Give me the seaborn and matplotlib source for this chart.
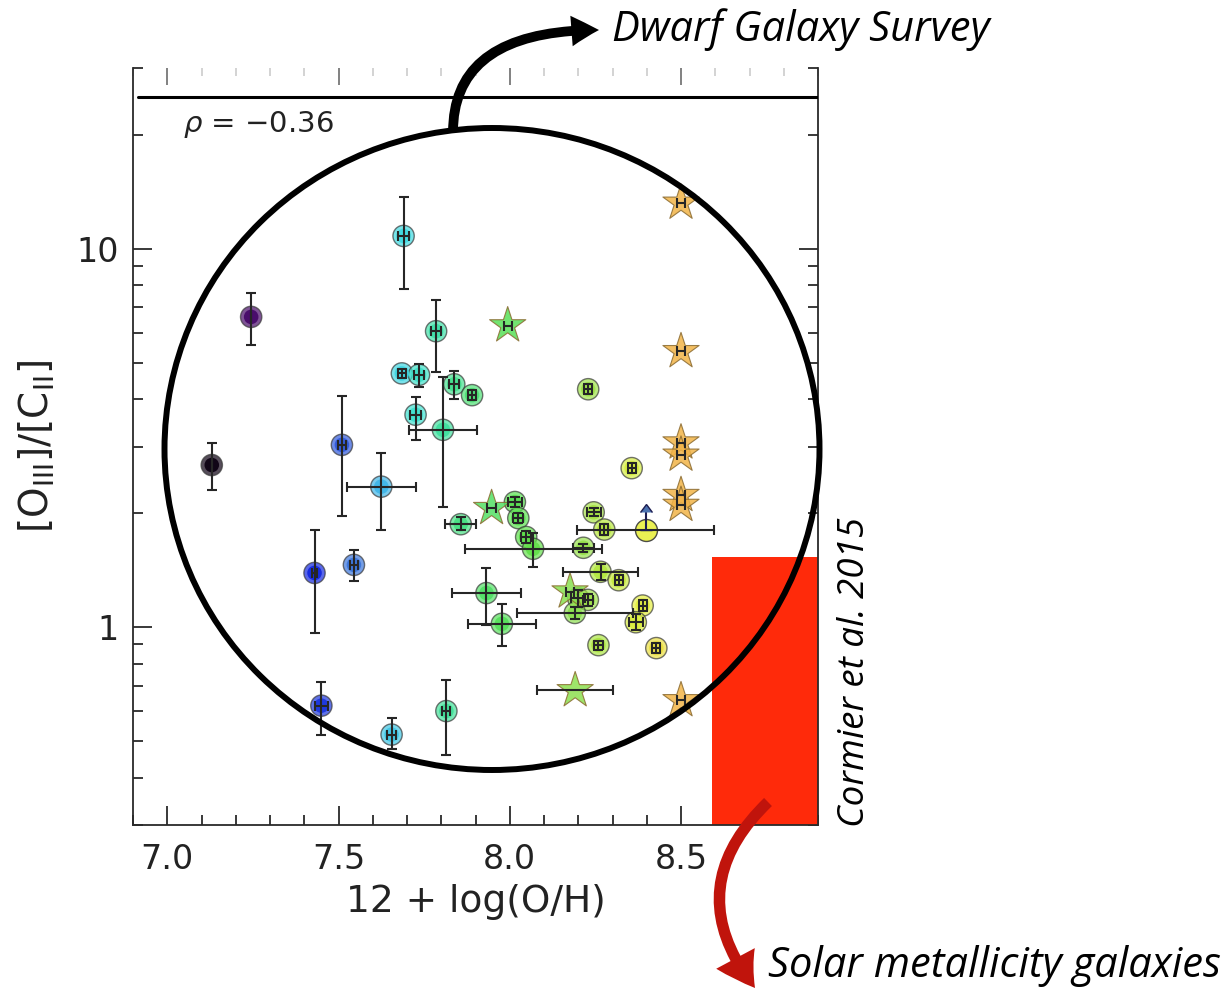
import numpy as np
import pandas as pd
import matplotlib
matplotlib.use("Agg")
import matplotlib.pyplot as plt
import seaborn as sns
from matplotlib.patches import Ellipse, FancyArrowPatch, ArrowStyle
from matplotlib.colors import LinearSegmentedColormap
from matplotlib.ticker import MultipleLocator, LogLocator, NullFormatter

# ---- Dwarf Galaxy Survey: individual galaxies (circles) ----
circ_oh = [7.13, 7.245, 7.69, 7.51, 7.625, 7.43, 7.545, 7.45, 7.655, 7.815,
           7.685, 7.735, 7.785, 7.725, 7.805, 7.838, 7.89, 7.857, 8.015, 8.025,
           8.048, 8.068, 7.932, 7.977, 8.229, 8.356, 8.245, 8.276, 8.215, 8.265,
           8.318, 8.20, 8.228, 8.19, 8.388, 8.368, 8.259, 8.428]
circ_ratio = [2.68, 6.60, 10.8, 3.03, 2.35, 1.39, 1.46, 0.62, 0.52, 0.60,
              4.68, 4.64, 6.05, 3.64, 3.32, 4.38, 4.10, 1.87, 2.14, 1.94,
              1.73, 1.61, 1.23, 1.02, 4.25, 2.63, 2.01, 1.81, 1.62, 1.40,
              1.33, 1.19, 1.18, 1.09, 1.14, 1.03, 0.896, 0.88]
circ_oh_err = [0.0, 0.0, 0.015, 0.012, 0.10, 0.008, 0.012, 0.02, 0.012, 0.012,
               0.012, 0.015, 0.015, 0.015, 0.10, 0.015, 0.012, 0.045, 0.02, 0.015,
               0.015, 0.20, 0.10, 0.10, 0.012, 0.012, 0.02, 0.012, 0.03, 0.11,
               0.012, 0.02, 0.015, 0.17, 0.012, 0.02, 0.012, 0.012]
circ_ratio_lo = [2.30, 5.57, 7.80, 1.97, 1.81, 0.965, 1.32, 0.52, 0.475, 0.46,
                 4.55, 4.30, 4.73, 3.12, 2.08, 4.00, 3.98, 1.80, 2.08, 1.88,
                 1.67, 1.44, 1.01, 0.89, 4.12, 2.55, 1.96, 1.75, 1.58, 1.33,
                 1.29, 1.13, 1.14, 1.05, 1.10, 0.98, 0.87, 0.855]
circ_ratio_hi = [3.07, 7.65, 13.7, 4.08, 2.89, 1.80, 1.60, 0.715, 0.575, 0.725,
                 4.80, 4.95, 7.33, 4.06, 4.59, 4.75, 4.22, 1.95, 2.20, 2.00,
                 1.79, 1.77, 1.43, 1.15, 4.38, 2.71, 2.06, 1.87, 1.66, 1.47,
                 1.37, 1.25, 1.22, 1.13, 1.18, 1.08, 0.92, 0.905]

# galaxy with a lower limit on [OIII]/[CII]
limit_oh = [8.397]
limit_ratio = [1.81]
limit_oh_err = [0.20]
limit_arrow = [0.21]

# ---- stacked / composite regions (stars) ----
star_oh = [7.994, 7.947, 8.176, 8.191, 8.50, 8.50, 8.50, 8.50, 8.50, 8.50, 8.50]
star_ratio = [6.26, 2.06, 1.24, 0.68, 13.2, 5.35, 3.07, 2.85, 2.23, 2.10, 0.64]
star_oh_err = [0.012, 0.012, 0.012, 0.11, 0.012, 0.012, 0.012, 0.012, 0.012, 0.012, 0.012]

# ---- solar-metallicity galaxies (Cormier et al. 2015) ----
solar_oh = [8.59, 8.90]
solar_ratio_max = 1.53

rho_text = r"$\rho$ = −0.36"

# metallicity colour scale
cmap_oh = [7.10, 7.25, 7.43, 7.53, 7.63, 7.70, 7.80, 7.90, 8.05, 8.20, 8.28, 8.40, 8.50]
cmap_col = ["#000000", "#4b0a6e", "#1428e0", "#3a6ad8", "#40b8e8", "#40e0e0",
            "#40e0a0", "#50e070", "#5de04a", "#90e050", "#b8e840", "#e8f040", "#f2b448"]
oh_min, oh_max = cmap_oh[0], cmap_oh[-1]
cmap = LinearSegmentedColormap.from_list(
    "metal", [((v - oh_min) / (oh_max - oh_min), c) for v, c in zip(cmap_oh, cmap_col)])

circles = pd.DataFrame({"oh": circ_oh, "ratio": circ_ratio})
stars = pd.DataFrame({"oh": star_oh, "ratio": star_ratio})
limits = pd.DataFrame({"oh": limit_oh, "ratio": limit_ratio})

sns.set_theme(style="ticks")
plt.rcParams["font.family"] = ["DejaVu Sans"]

W, H = 1228, 992
fig = plt.figure(figsize=(W / 100, H / 100), dpi=100)
ax = fig.add_axes([133 / W, 1 - 825 / H, 685 / W, (825 - 68) / H])
ax.set_yscale("log")
ax.set_xlim(6.9, 8.9)
ax.set_ylim(0.30, 30.0)

# solar metallicity box
ax.fill_between(solar_oh, ax.get_ylim()[0], solar_ratio_max, color="#ff2a0a",
                lw=0, zorder=1)

norm = (oh_min, oh_max)
# translucent halo + solid core for circles
sns.scatterplot(data=circles, x="oh", y="ratio", hue="oh", palette=cmap, hue_norm=norm,
                s=235, alpha=0.7, edgecolor="#3a3a3a", linewidth=1.0, legend=False,
                ax=ax, zorder=3)
sns.scatterplot(data=circles, x="oh", y="ratio", hue="oh", palette=cmap, hue_norm=norm,
                s=110, alpha=0.95, edgecolor="none", linewidth=0, legend=False,
                ax=ax, zorder=3)
sns.scatterplot(data=limits, x="oh", y="ratio", hue="oh", palette=cmap, hue_norm=norm,
                s=250, alpha=0.9, edgecolor="#3a3a3a", linewidth=1.0, legend=False,
                ax=ax, zorder=3)
sns.scatterplot(data=stars, x="oh", y="ratio", hue="oh", palette=cmap, hue_norm=norm,
                marker="*", s=750, alpha=0.85, edgecolor="#8a6a30", linewidth=0.8,
                legend=False, ax=ax, zorder=3)

eb_kw = dict(fmt="none", ecolor="#262626", elinewidth=1.5, capsize=3.5, capthick=1.5,
             zorder=4)
c_ratio = np.array(circ_ratio)
ax.errorbar(circ_oh, circ_ratio, xerr=circ_oh_err,
            yerr=[c_ratio - np.array(circ_ratio_lo), np.array(circ_ratio_hi) - c_ratio],
            **eb_kw)
ax.errorbar(star_oh, star_ratio, xerr=star_oh_err, **eb_kw)
ax.errorbar(limit_oh, limit_ratio, xerr=limit_oh_err, **eb_kw)
ax.errorbar(limit_oh, limit_ratio, yerr=[[0], limit_arrow], lolims=True, fmt="none",
            ecolor="#1c1c50", elinewidth=1.5, capsize=4, zorder=4)

ax.axhline(25.1, xmin=0.007, color="black", lw=2.2, zorder=5)
ax.text(0.073, 0.925, rho_text, transform=ax.transAxes, fontsize=21, va="center",
        color="#222222")

# axes, ticks
for side in ["left", "right", "bottom"]:
    ax.spines[side].set_visible(True)
    ax.spines[side].set_color("#2a2a2a")
    ax.spines[side].set_linewidth(1.3)
ax.spines["top"].set_visible(False)
ax.set_xticks([7.0, 7.5, 8.0, 8.5])
ax.set_xticklabels(["7.0", "7.5", "8.0", "8.5"])
ax.xaxis.set_minor_locator(MultipleLocator(0.1))
ax.set_yticks([1, 10])
ax.set_yticklabels(["1", "10"])
ax.yaxis.set_minor_locator(LogLocator(base=10, subs=np.arange(2, 10)))
ax.yaxis.set_minor_formatter(NullFormatter())
ax.tick_params(which="both", direction="in", top=False, right=True, color="#2a2a2a",
               width=1.3, labelsize=24, labelcolor="#222222")
ax.tick_params(axis="x", which="major", length=14, pad=13)
ax.tick_params(axis="x", which="minor", length=7)
ax.tick_params(axis="y", which="major", length=14, pad=10)
ax.tick_params(axis="y", which="minor", length=7)

sec = ax.secondary_xaxis("top")
sec.set_xticks([7.0, 7.5, 8.0, 8.5])
sec.xaxis.set_minor_locator(MultipleLocator(0.1))
sec.tick_params(which="both", direction="in", labeltop=False, width=1.3)
sec.tick_params(which="major", length=12, color="#777777")
sec.tick_params(which="minor", length=6, color="#d0d0d0")
sec.spines["top"].set_visible(False)

ax.set_xlabel("12 + log(O/H)", fontsize=27, color="#222222", labelpad=6)
ax.set_ylabel(r"[O$_{\mathregular{III}}$]/[C$_{\mathregular{II}}$]", fontsize=28,
              color="#222222", labelpad=14)
ax.grid(False)


def px(x, y):
    return (x / 100, (H - y) / 100)


# highlight ring around the survey galaxies
fig.add_artist(Ellipse(px(492, 449), 6.55, 6.42, transform=fig.dpi_scale_trans,
                       fill=False, lw=4.3, ec="black", zorder=10))

fig.add_artist(FancyArrowPatch(px(453, 132), px(599, 30), transform=fig.dpi_scale_trans,
                               connectionstyle="angle3,angleA=90,angleB=0",
                               arrowstyle=ArrowStyle.Simple(head_length=0.9, head_width=1.0,
                                                            tail_width=0.32),
                               mutation_scale=22, color="black", lw=0, shrinkA=0,
                               shrinkB=0, zorder=10))
fig.add_artist(FancyArrowPatch(px(768, 802), px(755, 988), transform=fig.dpi_scale_trans,
                               connectionstyle="arc3,rad=0.45",
                               arrowstyle=ArrowStyle.Simple(head_length=0.85, head_width=1.05,
                                                            tail_width=0.27),
                               mutation_scale=30, color="#c0140c", lw=0, shrinkA=0,
                               shrinkB=0, zorder=10))

ann = dict(family=["Open Sans", "DejaVu Sans"], style="italic", color="black")
fig.text(612 / W, 1 - 30 / H, "Dwarf Galaxy Survey", fontsize=30, ha="left",
         va="center", **ann)
fig.text(855 / W, 1 - 672 / H, "Cormier et al. 2015", fontsize=26.5, rotation=90,
         ha="center", va="center", **ann)
fig.text(768 / W, 1 - 966 / H, "Solar metallicity galaxies", fontsize=30, ha="left",
         va="center", **ann)

fig.savefig("out.png", dpi=100)
